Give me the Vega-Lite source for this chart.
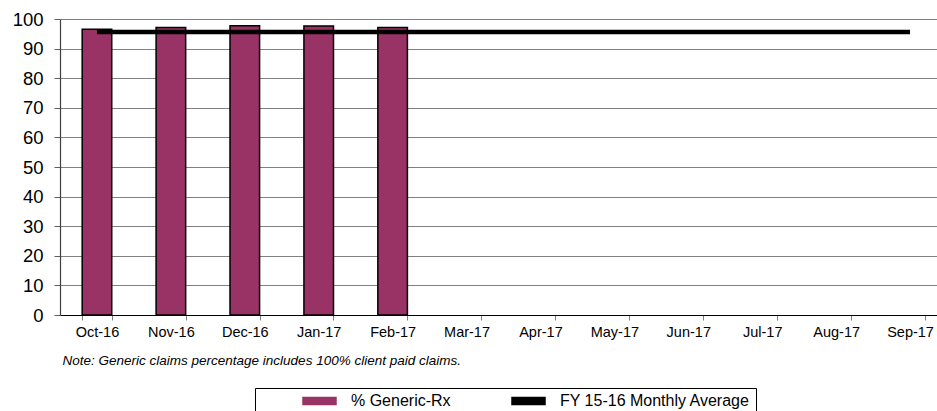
{
  "$schema": "https://vega.github.io/schema/vega-lite/v6.json",
  "autosize": "none",
  "padding": {"left": 60, "top": 19, "right": 0, "bottom": 96},
  "width": 877,
  "height": 296,
  "background": "white",
  "config": {
    "view": {"stroke": null},
    "font": "Liberation Sans"
  },
  "data": {
    "values": [
      {"month": "Oct-16", "generic": 96.5, "avg": 95.6},
      {"month": "Nov-16", "generic": 97.1, "avg": 95.6},
      {"month": "Dec-16", "generic": 97.7, "avg": 95.6},
      {"month": "Jan-17", "generic": 97.6, "avg": 95.6},
      {"month": "Feb-17", "generic": 97.1, "avg": 95.6},
      {"month": "Mar-17", "generic": null, "avg": 95.6},
      {"month": "Apr-17", "generic": null, "avg": 95.6},
      {"month": "May-17", "generic": null, "avg": 95.6},
      {"month": "Jun-17", "generic": null, "avg": 95.6},
      {"month": "Jul-17", "generic": null, "avg": 95.6},
      {"month": "Aug-17", "generic": null, "avg": 95.6},
      {"month": "Sep-17", "generic": null, "avg": 95.6}
    ]
  },
  "encoding": {
    "x": {
      "field": "month",
      "type": "nominal",
      "sort": null,
      "scale": {"range": [0, 887], "paddingInner": 0.6, "paddingOuter": 0.3},
      "axis": {
        "title": "Note: Generic claims percentage includes 100% client paid claims.",
        "titleFont": "Liberation Sans",
        "titleFontSize": 13.5,
        "titleFontStyle": "italic",
        "titleFontWeight": "normal",
        "titleColor": "black",
        "titleAnchor": "start",
        "titleAlign": "left",
        "titleBaseline": "middle",
        "titleX": 2,
        "titleY": 45,
        "labelAngle": 0,
        "labelFont": "Liberation Sans",
        "labelFontSize": 14.5,
        "labelColor": "black",
        "labelPadding": 5,
        "labelOverlap": false,
        "tickBand": "extent",
        "tickSize": 5,
        "tickColor": "#808080",
        "domainColor": "black",
        "domainWidth": 1.2,
        "grid": false
      }
    }
  },
  "layer": [
    {
      "mark": {"type": "bar", "stroke": "black", "strokeWidth": 1.5},
      "encoding": {
        "y": {
          "field": "generic",
          "type": "quantitative",
          "scale": {"domain": [0, 100], "nice": false},
          "axis": {
            "title": null,
            "values": [0, 10, 20, 30, 40, 50, 60, 70, 80, 90, 100],
            "labelOverlap": false,
            "labelFont": "Liberation Sans",
            "labelFontSize": 18.5,
            "labelColor": "black",
            "labelPadding": 11,
            "tickSize": 6,
            "tickColor": "#606060",
            "domainColor": "#404040",
            "domainWidth": 1.2,
            "grid": true,
            "gridColor": "#808080",
            "gridWidth": 1,
            "gridOpacity": 1
          }
        },
        "color": {
          "datum": "% Generic-Rx",
          "type": "nominal",
          "scale": {
            "domain": ["% Generic-Rx", "FY 15-16 Monthly Average"],
            "range": ["#993366", "black"]
          },
          "legend": {
            "orient": "none",
            "legendX": 195,
            "legendY": 369,
            "direction": "horizontal",
            "title": " ",
            "titleOrient": "left",
            "titlePadding": 51,
            "titleFontSize": 16,
            "padding": 5,
            "strokeColor": "black",
            "fillColor": "white",
            "columnPadding": 58,
            "symbolSize": 100,
            "symbolType": "M-3.2,-0.7H3.4V0.7H-3.2Z",
            "labelFont": "Liberation Sans",
            "labelFontSize": 16,
            "labelColor": "black",
            "labelOffset": 24,
            "labelLimit": 400,
            "labelExpr": "datum.value === '% Generic-Rx' ? datum.label : datum.label + '\u00a0\u00a0\u00a0\u00a0\u00a0\u00a0\u00a0\u00a0\u00a0\u00a0\u00a0\u00a0\u00a0\u00a0\u00a0\u00a0\u00a0\u00a0\u00a0\u00a0\u00a0\u00a0\u00a0\u00a0'"
          }
        }
      }
    },
    {
      "mark": {"type": "line", "strokeWidth": 4.5, "strokeCap": "butt"},
      "encoding": {
        "y": {
          "field": "avg",
          "type": "quantitative",
          "axis": {
            "title": null,
            "values": [0, 10, 20, 30, 40, 50, 60, 70, 80, 90, 100],
            "labelOverlap": false,
            "labelFont": "Liberation Sans",
            "labelFontSize": 18.5,
            "labelColor": "black",
            "labelPadding": 11,
            "tickSize": 6,
            "tickColor": "#606060",
            "domainColor": "#404040",
            "domainWidth": 1.2,
            "grid": true,
            "gridColor": "#808080",
            "gridWidth": 1,
            "gridOpacity": 1
          }
        },
        "color": {"datum": "FY 15-16 Monthly Average", "type": "nominal"}
      }
    }
  ]
}
